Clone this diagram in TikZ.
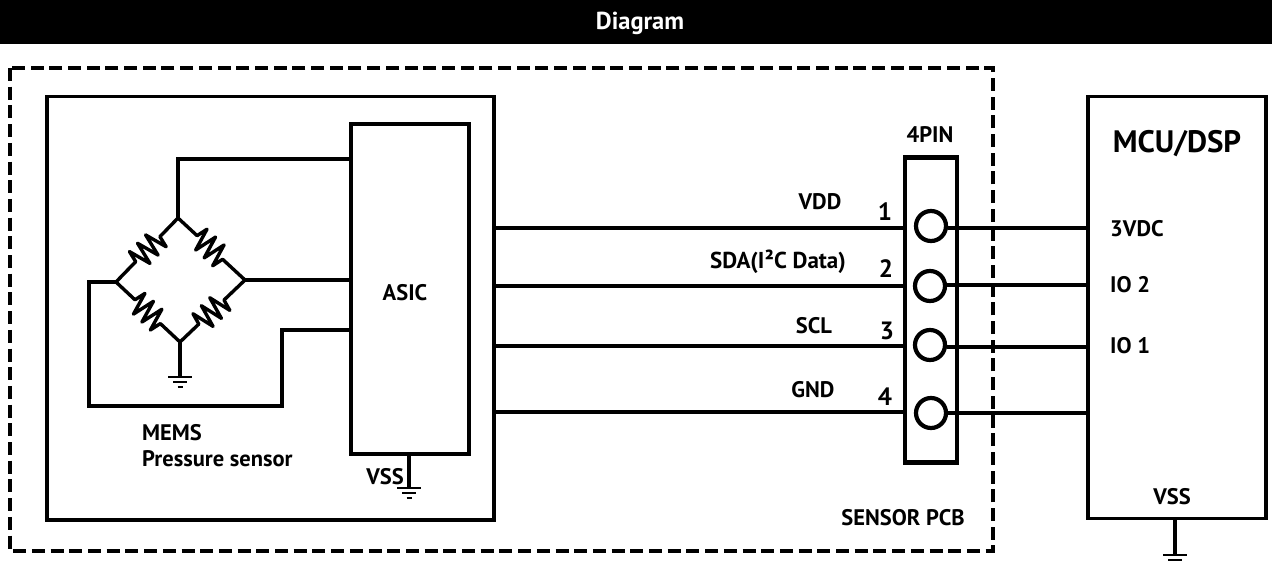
\documentclass[tikz,border=0pt]{standalone}
\usepackage{fontspec}
\setmainfont{PT Sans}
\usetikzlibrary{decorations.pathmorphing,calc}
\tikzset{
  lbl/.style={inner sep=0pt,font=\fontsize{22.5}{24}\selectfont\bfseries,text=black},
  dig/.style={inner sep=0pt,font=\fontsize{25}{26}\selectfont\bfseries,text=black},
  wire/.style={line width=3.4pt,line join=miter,line cap=butt},
  boxs/.style={draw,line width=3.4pt,inner sep=0pt,minimum width=0pt},
  gbar/.style={line width=2.2pt},
  res/.style={line width=3.4pt,line join=round,decorate,decoration={zigzag,segment length=11.6pt,amplitude=11.5pt,pre length=26pt,post length=26pt}},
  pin/.style={circle,draw,line width=4.2pt,minimum size=30pt,inner sep=0pt,fill=white}
}
\newcommand{\gnd}[1]{%
  \draw[gbar] ($(#1)+(-12,0)$) -- ($(#1)+(12,0)$);
  \draw[gbar] ($(#1)+(-7,5)$) -- ($(#1)+(7,5)$);
  \draw[gbar] ($(#1)+(-2.5,10)$) -- ($(#1)+(2.5,10)$);}
\begin{document}
\begin{tikzpicture}[x=1pt,y=-1pt]
\useasboundingbox (0,0) rectangle (1272,562);
\fill[black] (0,0) rectangle (1272,43.5);
\node[lbl,text=white,font=\fontsize{24.5}{26}\selectfont\bfseries] (title) at (640,23) {Diagram};
% frames
\draw[line width=4.6pt,dash pattern=on 13pt off 5.7pt] (10,68) rectangle (993,551);
\draw[line width=3.4pt] (47,96.5) rectangle (494,520);
\node[boxs,minimum width=118pt,minimum height=330pt] (asic) at (410,289) {};
\node[lbl] (asicl) at (405,293) {ASIC};
\node[boxs,line width=4.4pt,minimum width=52pt,minimum height=305pt] (conn) at (931,310) {};
\draw[line width=3.4pt] (1088,96.5) -- (1266,96.5) -- (1266,518.5) -- (1088,518.5) -- cycle;
% bridge
\coordinate (t) at (178,218);
\coordinate (r) at (245,280);
\coordinate (b) at (180,342);
\coordinate (l) at (116,282);
\draw[res] (t) -- (l);
\draw[res] (t) -- (r);
\draw[res] (l) -- (b);
\draw[res] (b) -- (r);
\coordinate (a1) at (351,159);
\coordinate (a2) at (351,280);
\coordinate (a3) at (351,330);
\draw[wire] (t) -- (178,159) -- (a1);
\draw[wire] (r) -- (a2);
\draw[wire] (l) -- (89,282) -- (89,406) -- (282,406) -- (282,330) -- (a3);
\coordinate (g1) at (180,377);
\draw[wire] (b) -- (g1);
\gnd{g1}
\coordinate (g2) at (409,488);
\draw[wire] (409,454) -- (g2);
\gnd{g2}
\coordinate (g3) at (1175,555);
\draw[wire] (1175,518) -- (g3);
\gnd{g3}
% wires
\coordinate (w1) at (494,228);
\coordinate (w2) at (494,286);
\coordinate (w3) at (494,346);
\coordinate (w4) at (494,412);
\coordinate (m1) at (1088,228);
\coordinate (m2) at (1088,285);
\coordinate (m3) at (1088,347);
\coordinate (m4) at (1088,413);
\draw[wire] (w1) -- (905,228);
\draw[wire] (w2) -- (905,286);
\draw[wire] (w3) -- (905,346);
\draw[wire] (w4) -- (905,412);
\node[pin] (p1) at (931,226) {};
\node[pin] (p2) at (930,286) {};
\node[pin] (p3) at (930,345) {};
\node[pin] (p4) at (931,413) {};
\draw[wire] (p1.east |- m1) -- (m1);
\draw[wire] (p2.east |- m2) -- (m2);
\draw[wire] (p3.east |- m3) -- (m3);
\draw[wire] (p4.east |- m4) -- (m4);
% labels
\node[lbl] (pinhdr) at (930,135) {4PIN};
\node[lbl] (n1) at (820,202) {VDD};
\node[lbl,font=\fontsize{23}{24}\selectfont\bfseries] (n2) at (778,262) {SDA(I²C Data)};
\node[lbl] (n3) at (814,326) {SCL};
\node[lbl] (n4) at (813,390) {GND};
\node[dig] (k1) at (885,212) {1};
\node[dig] (k2) at (886,269) {2};
\node[dig] (k3) at (887,331) {3};
\node[dig] (k4) at (885,397) {4};
\node[lbl,anchor=west] (mems) at (142,433) {MEMS};
\node[lbl,anchor=west] (press) at (142,459) {Pressure sensor};
\node[lbl] (vss1) at (385,477) {VSS};
\node[lbl] (pcb) at (903,518) {SENSOR PCB};
\node[lbl,font=\fontsize{31}{33}\selectfont\bfseries] (mcu) at (1177,144) {MCU/DSP};
\node[lbl,anchor=west] (io0) at (1110,229) {3VDC};
\node[lbl,anchor=west] (io2) at (1110,285) {IO 2};
\node[lbl,anchor=west] (io1) at (1110,346) {IO 1};
\node[lbl] (vss2) at (1172,497) {VSS};
\end{tikzpicture}
\end{document}
